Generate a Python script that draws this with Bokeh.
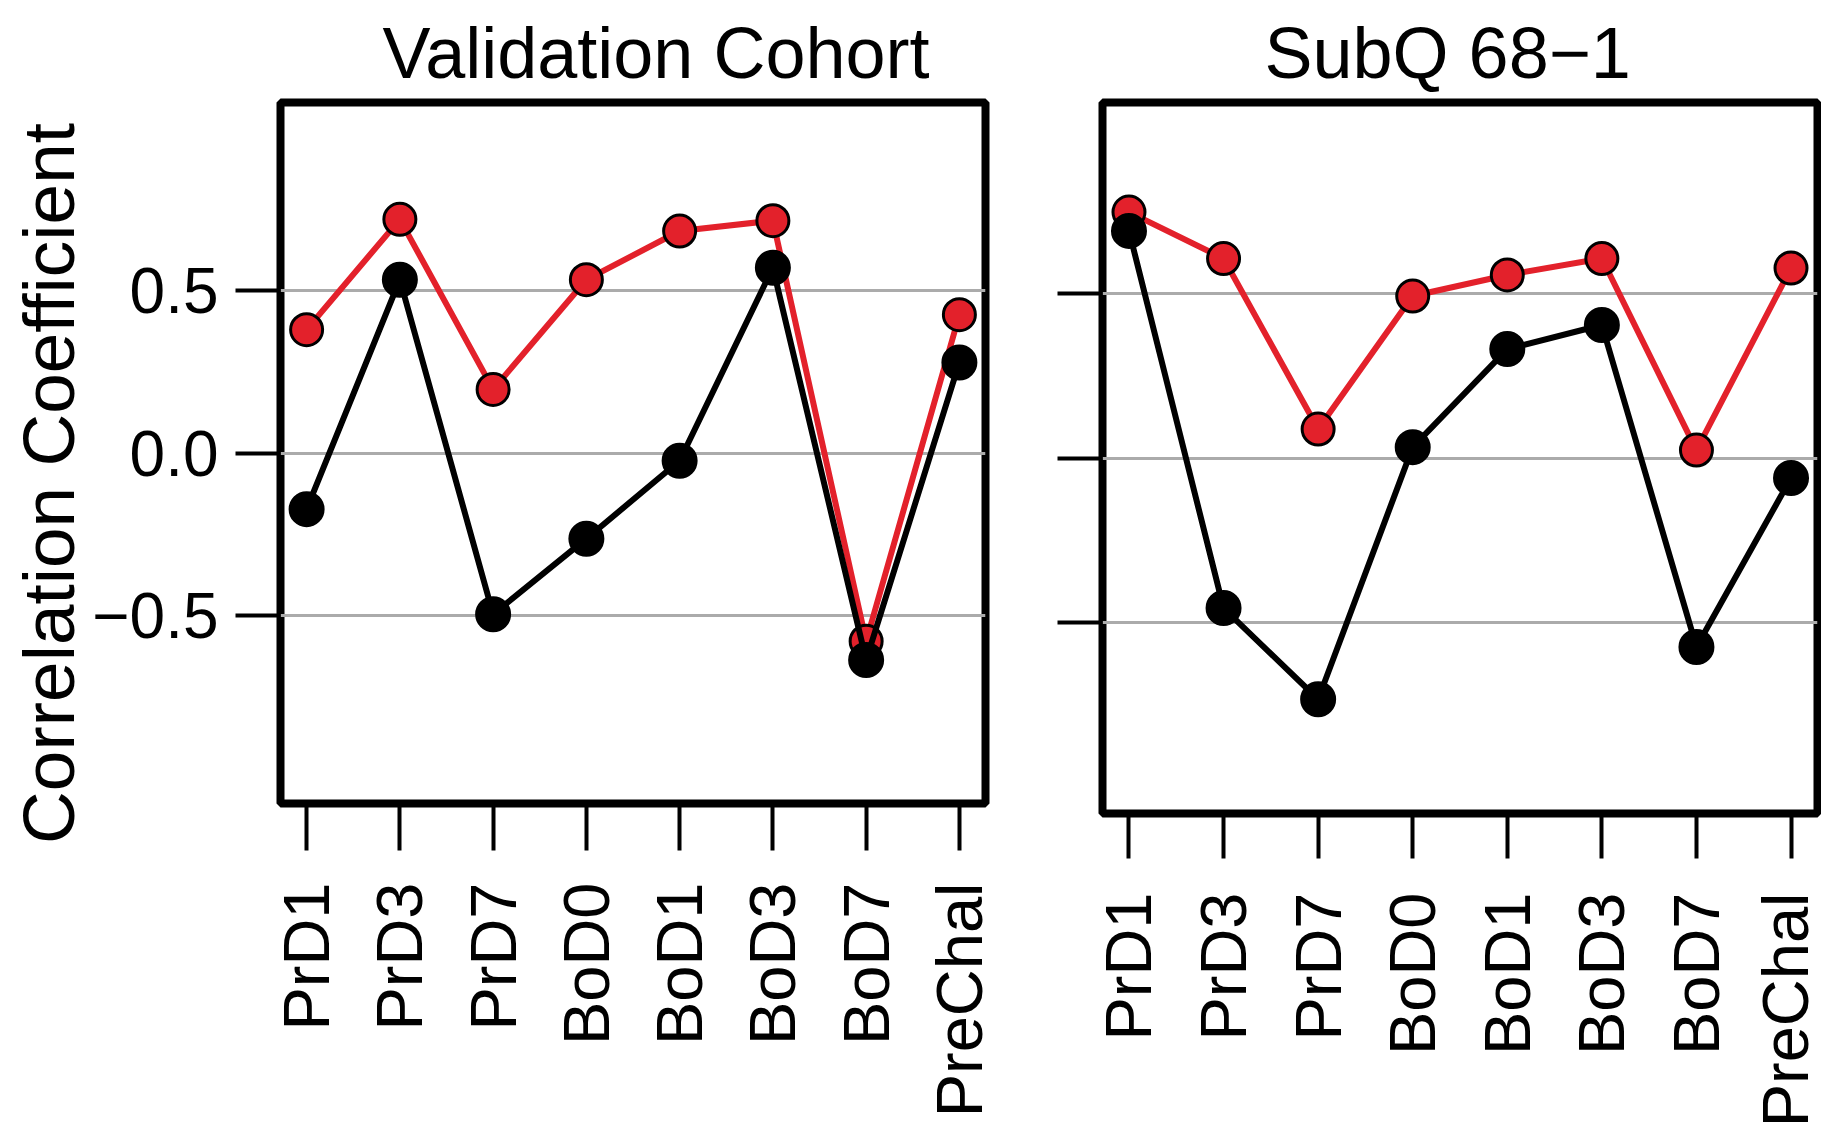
import math
from bokeh.plotting import figure
from bokeh.models import FixedTicker, Range1d, Title, ColumnDataSource
from bokeh.layouts import row
from bokeh.embed import file_html
from bokeh.resources import INLINE

# ---- data ----
categories = ["PrD1", "PrD3", "PrD7", "BoD0", "BoD1", "BoD3", "BoD7", "PreChal"]
y_ticks = [-0.5, 0.0, 0.5]
y_tick_labels = ["\u22120.5", "0.0", "0.5"]

titles = ["Validation Cohort", "SubQ 68\u22121"]
y_label = "Correlation Coefficient"

val_red = [0.38, 0.72, 0.196, 0.534, 0.684, 0.716, -0.58, 0.426]
val_black = [-0.173, 0.534, -0.497, -0.264, -0.024, 0.571, -0.638, 0.279]
subq_red = [0.747, 0.606, 0.088, 0.492, 0.556, 0.606, 0.024, 0.577]
subq_black = [0.69, -0.456, -0.733, 0.033, 0.331, 0.404, -0.574, -0.061]

FONT = "Liberation Sans"
RED = "#E3212B"
GRID = "#ABABAB"


def make_panel(title, red, black, frame_w, frame_h, b_left, b_right, b_top,
               left_labels, title_offset, x_tick_out, x_label_standoff):
    xs = list(range(1, len(categories) + 1))
    src = ColumnDataSource(dict(x=xs, red=red, black=black))
    p = figure(frame_width=frame_w, frame_height=frame_h,
               x_range=Range1d(0.72, 8.28), y_range=Range1d(-1.08, 1.08),
               output_backend="svg", toolbar_location=None,
               min_border_left=b_left, min_border_right=b_right,
               min_border_top=b_top, min_border_bottom=4,
               background_fill_color="white", border_fill_color="white")
    p.title = None
    t = Title(text=title, align="left", offset=title_offset, standoff=20,
              text_font=FONT, text_font_size="72px", text_font_style="normal",
              text_color="black", vertical_align="bottom")
    p.add_layout(t, "above")

    p.outline_line_color = "black"
    p.outline_line_width = 8
    p.outline_line_alpha = 1.0

    # x axis
    xa = p.xaxis[0]
    xa.ticker = FixedTicker(ticks=xs)
    xa.major_label_overrides = {i + 1: c for i, c in enumerate(categories)}
    xa.major_label_orientation = math.pi / 2
    xa.major_label_text_font = FONT
    xa.major_label_text_font_size = "65px"
    xa.major_label_text_color = "black"
    xa.major_label_standoff = x_label_standoff
    xa.major_tick_out = x_tick_out
    xa.major_tick_in = 0
    xa.major_tick_line_width = 4
    xa.major_tick_line_color = "black"
    xa.minor_tick_line_color = None
    xa.axis_line_color = None

    # y axis
    ya = p.yaxis[0]
    ya.ticker = FixedTicker(ticks=y_ticks)
    if left_labels:
        ya.major_label_overrides = {v: l for v, l in zip(y_ticks, y_tick_labels)}
        ya.axis_label = y_label + "\u00a0\u00a0\u00a0"
        ya.axis_label_text_font = FONT
        ya.axis_label_text_font_size = "73px"
        ya.axis_label_text_font_style = "normal"
        ya.axis_label_text_color = "black"
        ya.axis_label_standoff = 0
        ya.major_label_standoff = 17
    else:
        ya.major_label_overrides = {v: "" for v in y_ticks}
        ya.major_label_standoff = 0
    ya.major_label_text_font = FONT
    ya.major_label_text_font_size = "64px"
    ya.major_label_text_color = "black"
    ya.major_label_orientation = "horizontal"
    ya.major_tick_out = 45
    ya.major_tick_in = 0
    ya.major_tick_line_width = 4
    ya.major_tick_line_color = "black"
    ya.minor_tick_line_color = None
    ya.axis_line_color = None

    p.xgrid.grid_line_color = None
    p.ygrid.ticker = FixedTicker(ticks=y_ticks)
    p.ygrid.grid_line_color = GRID
    p.ygrid.grid_line_width = 3

    p.line("x", "red", source=src, line_color=RED, line_width=6)
    p.scatter("x", "red", source=src, size=32, fill_color=RED,
              line_color="black", line_width=3)
    p.line("x", "black", source=src, line_color="black", line_width=6)
    p.scatter("x", "black", source=src, size=33, fill_color="black",
              line_color="black", line_width=3)
    return p


p1 = make_panel(titles[0], val_red, val_black, 705, 701, 280, 40, 102,
                True, 102, 47, 32)
p2 = make_panel(titles[1], subq_red, subq_black, 715, 711, 77, 4, 102,
                False, 162, 45, 34)

layout = row(p1, p2)
open("out.html", "w").write(file_html(layout, INLINE))
